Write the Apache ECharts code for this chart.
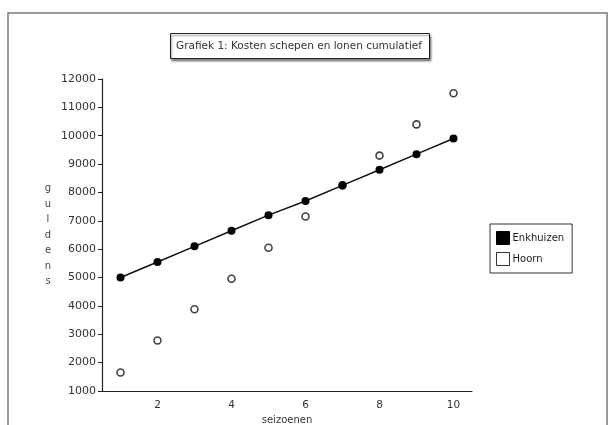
<!DOCTYPE html>
<html><head><meta charset="utf-8">
<script src="https://cdn.jsdelivr.net/npm/echarts@6/dist/echarts.min.js"></script>
<style>html,body{margin:0;padding:0;background:#fff}#c{width:616px;height:425px}</style>
</head><body><div id="c"></div>
<script>
const seasons = ['1','2','3','4','5','6','7','8','9','10'];
const enkhuizen = [5000, 5550, 6100, 6650, 7200, 7700, 8250, 8800, 9350, 9900];
const hoorn = [1650, 2780, 3880, 4960, 6050, 7150, 8250, 9300, 10400, 11500];
const titleText = 'Grafiek 1: Kosten schepen en lonen cumulatief';
const yName = 'guldens';
const xName = 'seizoenen';

const font = 'DejaVu Sans';
const chart = echarts.init(document.getElementById('c'));
chart.setOption({
  animation: false,
  backgroundColor: '#fff',
  textStyle: { fontFamily: font },
  graphic: [{
    type: 'rect', shape: { x: 8, y: 13, width: 599, height: 430 },
    style: { fill: 'none', stroke: '#7a7a7a', lineWidth: 1.5 }, silent: true, z: -1
  }],
  title: {
    text: titleText, left: 170, top: 33,
    borderWidth: 1, borderColor: '#222', padding: [8, 8, 7, 6],
    shadowColor: 'rgba(0,0,0,0.45)', shadowOffsetX: 1, shadowOffsetY: 2, shadowBlur: 2,
    backgroundColor: '#fff',
    textStyle: { fontFamily: font, fontSize: 10.5, fontWeight: 'normal', color: '#333' }
  },
  legend: {
    orient: 'vertical', left: 490, top: 224,
    width: 82, padding: [7, 8, 7, 6],
    borderColor: '#333', borderWidth: 1,
    itemWidth: 13, itemHeight: 13, itemGap: 7,
    textStyle: { fontFamily: font, fontSize: 10, color: '#222', padding: [0, 0, 0, -2] },
    data: [
      { name: 'Enkhuizen', icon: 'rect', itemStyle: { color: '#000', borderColor: '#000', borderWidth: 1 } },
      { name: 'Hoorn', icon: 'rect', itemStyle: { color: '#fff', borderColor: '#000', borderWidth: 1 } }
    ]
  },
  grid: { left: 102, right: 144, top: 79, bottom: 34, containLabel: false, outerBoundsMode: 'none' },
  xAxis: {
    type: 'category', data: seasons, boundaryGap: true,
    name: xName, nameLocation: 'middle', nameGap: 21,
    nameTextStyle: { fontFamily: font, fontSize: 10, color: '#333' },
    axisLine: { lineStyle: { color: '#222', width: 1.2 } },
    axisTick: { interval: 0, length: 4, lineStyle: { color: '#222' } },
    axisLabel: { interval: (i) => i % 2 === 1, fontFamily: font, fontSize: 10.5, color: '#333', margin: 9 },
    splitLine: { show: false }
  },
  yAxis: {
    type: 'value', min: 1000, max: 12000, interval: 1000,
    name: yName.split('').join('\n'), nameLocation: 'middle', nameRotate: 0, nameGap: 54,
    nameTextStyle: { fontFamily: font, fontSize: 10, color: '#444', lineHeight: 15.5, align: 'center' },
    axisLine: { show: true, lineStyle: { color: '#222', width: 1.2 } },
    axisTick: { show: true, length: 4, lineStyle: { color: '#222' } },
    axisLabel: { formatter: (v) => String(v), fontFamily: font, fontSize: 11, color: '#333', margin: 6 },
    splitLine: { show: false }
  },
  series: [
    {
      name: 'Enkhuizen', type: 'line', data: enkhuizen,
      symbol: 'circle', symbolSize: 8,
      lineStyle: { color: '#111', width: 1.5 },
      itemStyle: { color: '#000' }, z: 3
    },
    {
      name: 'Hoorn', type: 'scatter', data: hoorn,
      symbol: 'circle', symbolSize: 7,
      itemStyle: { color: '#fff', borderColor: '#111', borderWidth: 1.6 }, z: 2
    }
  ]
});
</script></body></html>
